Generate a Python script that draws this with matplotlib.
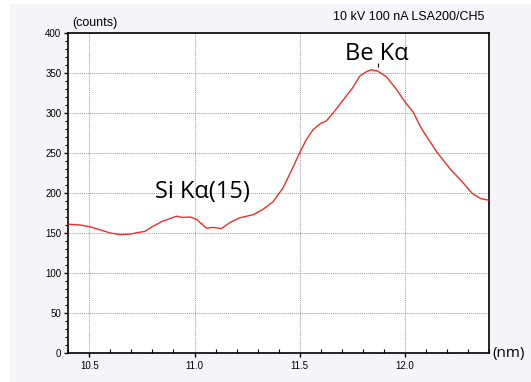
import numpy as np
import matplotlib.pyplot as plt
from matplotlib.patches import Rectangle
from matplotlib.ticker import MultipleLocator

# wavelength (nm) and counts
wavelength = [10.40, 10.456, 10.50, 10.55, 10.60, 10.646, 10.69, 10.74, 10.764, 10.80,
              10.85, 10.915, 10.94, 10.98, 11.01, 11.057, 11.09, 11.128, 11.168, 11.215,
              11.28, 11.326, 11.373, 11.42, 11.468, 11.495, 11.53, 11.563, 11.60, 11.626,
              11.658, 11.706, 11.753, 11.785, 11.817, 11.84, 11.87, 11.912, 11.96, 12.00,
              12.04, 12.07, 12.085, 12.15, 12.212, 12.276, 12.32, 12.36, 12.40]
counts = [161, 160, 158, 154, 150, 148, 148.5, 151, 152, 158,
          165, 171, 169.5, 170, 167, 156, 157, 155.5, 163, 169,
          173, 179.6, 189, 206, 232, 247.5, 266, 279, 287, 290,
          299.6, 316, 332, 346, 351.6, 354, 352.5, 345.4, 329.6, 314,
          301, 285, 278, 252, 231, 213, 199.6, 193, 191]

peak_pos = 11.87
labels = ['Be K\u03b1', 'Si K\u03b1(15)']
label_x = [11.714, 10.812]
label_y = [366, 194]

plt.rcParams['font.family'] = ['Liberation Sans', 'DejaVu Sans']

fig = plt.figure(figsize=(5.31, 3.82), dpi=100)
fig.patch.set_facecolor('white')
fig.patches.append(Rectangle((10/531, 0), 1, (382-4)/382, transform=fig.transFigure,
                             facecolor='#f5f5f9', edgecolor='none', zorder=-10))

ax = fig.add_axes([68.3/531, 29/382, 420.7/531, 320/382])
ax.set_facecolor('white')
ax.plot(wavelength, counts, color='#e8302c', linewidth=1.0, zorder=3)
ax.vlines(peak_pos, 357, 363, color='black', linewidth=0.8, zorder=3)

ax.set_xlim(10.4, 12.4)
ax.set_ylim(0, 400)
ax.xaxis.set_major_locator(MultipleLocator(0.5))
ax.xaxis.set_minor_locator(MultipleLocator(0.1))
ax.yaxis.set_major_locator(MultipleLocator(50))
ax.yaxis.set_minor_locator(MultipleLocator(10))
ax.xaxis.set_major_formatter(plt.FuncFormatter(lambda v, p: '%.1f' % v))

ax.grid(True, which='major', color='#9a9a9a', linestyle=(0, (1, 1)), linewidth=0.7)
for s in ax.spines.values():
    s.set_linewidth(1.2)
ax.tick_params(axis='both', which='major', direction='out', length=3, width=1,
               labelsize=7, colors='black', pad=2)
ax.tick_params(axis='y', which='minor', direction='out', length=2, width=0.8)
ax.tick_params(axis='x', which='minor', direction='in', length=3, width=0.8)
ax.tick_params(axis='x', which='major', pad=3)

ax.text(0.009, 1.012, '(counts)', transform=ax.transAxes, fontsize=9,
        ha='left', va='bottom')
ax.text(0.988, 1.03, '10 kV 100 nA LSA200/CH5', transform=ax.transAxes,
        fontsize=9, ha='right', va='bottom')
ax.text(1.008, 0.0, '(nm)', transform=ax.transAxes, fontsize=11,
        ha='left', va='center', family=['Open Sans', 'DejaVu Sans'])

for t, x, y in zip(labels, label_x, label_y):
    ax.text(x, y, t, fontsize=17, ha='left', va='baseline',
            family=['Open Sans', 'DejaVu Sans'], zorder=4)

fig.savefig('out.png', dpi=100)
